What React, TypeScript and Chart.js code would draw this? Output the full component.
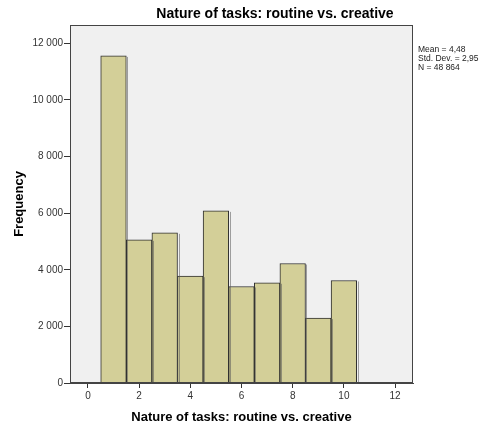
import React, { useEffect, useRef } from "react";
import { Chart, registerables } from "chart.js";

Chart.register(...registerables);

const binCenters = [1, 2, 3, 4, 5, 6, 7, 8, 9, 10];
const frequencies = [11557, 5058, 5305, 3774, 6081, 3411, 3541, 4222, 2293, 3622];
const xTicks = [0, 2, 4, 6, 8, 10, 12];
const yTicks = [0, 2000, 4000, 6000, 8000, 10000, 12000];
const chartTitle = "Nature of tasks: routine vs. creative";
const xTitle = "Nature of tasks: routine vs. creative";
const yTitle = "Frequency";
const statsLines = ["Mean = 4,48", "Std. Dev. = 2,95", "N = 48 864"];

const FONT = "'Liberation Sans', Arial, sans-serif";

const fmt = (v: number) => {
  const s = Math.round(v).toString();
  return s.replace(/\B(?=(\d{3})+(?!\d))/g, " ");
};

export default function App() {
  const ref = useRef<HTMLCanvasElement | null>(null);
  useEffect(() => {
    document.body.style.margin = "0";
    const ctx = ref.current!.getContext("2d")!;
    const bgPlugin = {
      id: "bgPlugin",
      beforeDraw(chart: any) {
        const { ctx, chartArea: a } = chart;
        ctx.save();
        ctx.fillStyle = "#ffffff";
        ctx.fillRect(0, 0, chart.width, chart.height);
        ctx.fillStyle = "#f0f0f0";
        ctx.fillRect(a.left, a.top, a.right - a.left, a.bottom - a.top);
        ctx.restore();
      },
      afterDatasetsDraw(chart: any) {
        const { ctx, chartArea: a } = chart;
        const meta = chart.getDatasetMeta(0);
        ctx.save();
        ctx.strokeStyle = "rgba(90,90,90,0.55)";
        ctx.lineWidth = 1;
        meta.data.forEach((bar: any) => {
          const half = bar.width / 2;
          const xr = Math.round(bar.x + half) + 1.5;
          ctx.beginPath();
          ctx.moveTo(xr, bar.y + 1);
          ctx.lineTo(xr, bar.base);
          ctx.stroke();
        });
        ctx.strokeStyle = "#444444";
        ctx.lineWidth = 1;
        ctx.strokeRect(Math.round(a.left) + 0.5, Math.round(a.top) + 0.5, Math.round(a.right - a.left) - 1, Math.round(a.bottom - a.top) - 1);
        ctx.restore();
      },
      afterDraw(chart: any) {
        const { ctx, chartArea: a } = chart;
        ctx.save();
        ctx.fillStyle = "#000000";
        ctx.font = `bold 14px ${FONT}`;
        ctx.textAlign = "center";
        ctx.textBaseline = "middle";
        ctx.fillText(chartTitle, 275, 14);
        ctx.font = `8.5px ${FONT}`;
        ctx.textAlign = "left";
        ctx.fillStyle = "#222222";
        statsLines.forEach((l, i) => ctx.fillText(l, a.right + 5, 50 + i * 8.7));
        ctx.restore();
      },
    };
    const chart = new Chart(ctx, {
      type: "bar",
      data: {
        datasets: [
          {
            data: binCenters.map((x, i) => ({ x, y: frequencies[i] })),
            backgroundColor: "#d3cf98",
            borderColor: "#2e2e2e",
            borderWidth: 1,
            barPercentage: 1,
            categoryPercentage: 1,
          },
        ],
      },
      options: {
        animation: false,
        responsive: false,
        layout: { padding: { top: 25, right: 76, left: 0, bottom: 0 } },
        plugins: { legend: { display: false }, tooltip: { enabled: false }, title: { display: false } },
        scales: {
          x: {
            type: "linear",
            min: -0.7,
            max: 12.7,
            offset: false,
            afterBuildTicks: (s: any) => {
              s.ticks = xTicks.map((v) => ({ value: v }));
            },
            afterFit: (s: any) => {
              s.height = 42;
            },
            ticks: { font: { family: FONT, size: 10 }, color: "#333333", padding: 2, maxRotation: 0 },
            grid: { display: true, offset: false, drawOnChartArea: false, drawTicks: true, tickLength: 5, color: "#333333" },
            border: { display: true, color: "#444444" },
            title: { display: true, text: xTitle, font: { family: FONT, size: 13, weight: "bold" }, color: "#000000", padding: { top: 2, bottom: 0 } },
          },
          y: {
            min: 0,
            max: 12650,
            afterBuildTicks: (s: any) => {
              s.ticks = yTicks.map((v) => ({ value: v }));
            },
            afterFit: (s: any) => {
              s.width = 70;
            },
            ticks: { font: { family: FONT, size: 10 }, color: "#333333", padding: 1, callback: (v: any) => fmt(Number(v)) },
            grid: { display: true, drawOnChartArea: false, drawTicks: true, tickLength: 6, color: "#333333" },
            border: { display: true, color: "#444444" },
            title: { display: true, text: yTitle, font: { family: FONT, size: 13, weight: "bold" }, color: "#000000", padding: { top: 12, bottom: 0 } },
          },
        },
      },
      plugins: [bgPlugin],
    } as any);
    return () => chart.destroy();
  }, []);
  return (
    <div style={{ position: "absolute", left: 0, top: 0, width: 489, height: 425 }}>
      <canvas ref={ref} width={489} height={425} style={{ width: 489, height: 425, display: "block" }} />
    </div>
  );
}
